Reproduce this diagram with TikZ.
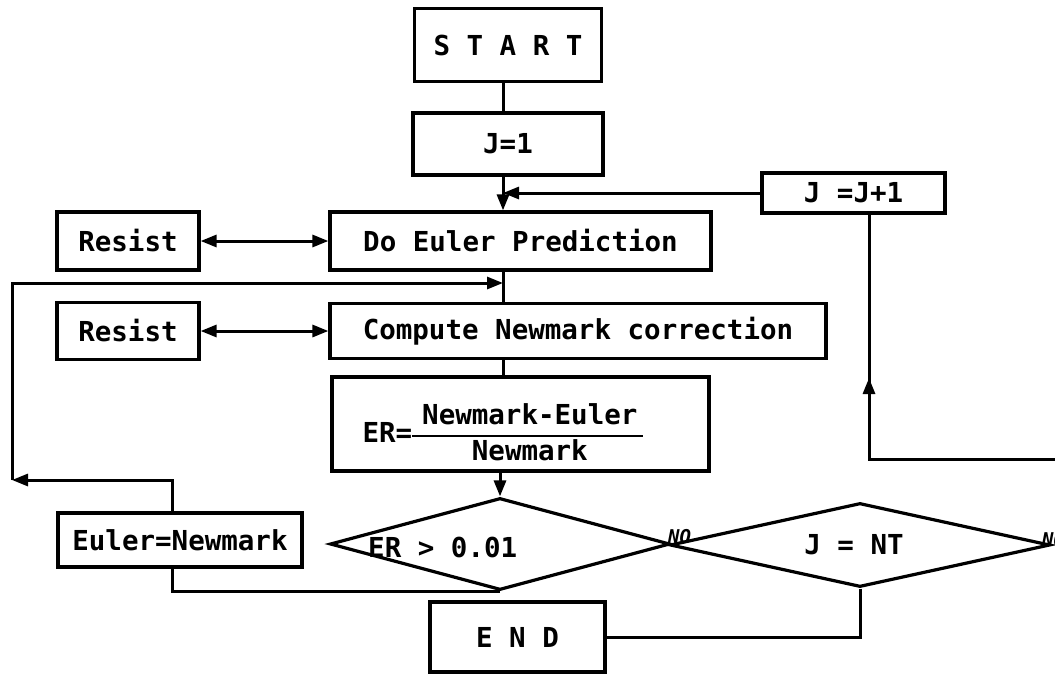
\documentclass[tikz,border=0pt]{standalone}
\usepackage{fontspec}
\setmainfont{DejaVu Sans Mono}
\usetikzlibrary{shapes.geometric,arrows.meta,calc}

\begin{document}
\begin{tikzpicture}[x=1pt,y=-1pt,
  every node/.style={font=\fontsize{27.5}{33}\selectfont\bfseries, inner sep=0pt},
  box/.style={draw, rectangle, line width=3.2pt},
  decision/.style={draw, diamond, line width=3.2pt},
  conn/.style={line width=3pt},
  >={Triangle[length=16pt,width=12pt]},
  nolabel/.style={font=\fontsize{19}{19}\selectfont\bfseries\itshape}
]
\fill[white] (0,0) rectangle (1055,675);
\useasboundingbox (0,0) rectangle (1055,675);

% main flow column and bends of the loops
\coordinate (col) at (503,0);
\coordinate (eux) at (172,0);
\coordinate (lc) at (12,480);
\coordinate (tc) at (12,283);
\coordinate (redge) at (1058,459);
\coordinate (rc) at (869,459);

% boxes
\node[box, minimum width=187pt, minimum height=73pt] (start) at (508,45) {S T A R T};
\node[box, minimum width=190pt, minimum height=62pt] (j1) at (508,144) {J=1};
\node[box, minimum width=183pt, minimum height=40pt] (jinc) at (853.5,193) {J =J+1};
\node[box, minimum width=381pt, minimum height=58pt] (euler) at (520.5,241) {Do Euler Prediction};
\node[box, minimum width=142pt, minimum height=58pt] (res1) at (128,241) {Resist};
\node[box, minimum width=496pt, minimum height=55pt] (newmark) at (578,331) {Compute Newmark correction};
\node[box, minimum width=142pt, minimum height=57pt] (res2) at (128,331) {Resist};
\node[box, minimum width=377pt, minimum height=94pt] (er) at (520.5,424) {};
\node (erlabel) at (503,436) {ER={\setlength\arrayrulewidth{2.8pt}%
  \begin{tabular}{@{\hspace{10pt}}c@{\hspace{6pt}}}Newmark-Euler\\\hline Newmark\end{tabular}}};

% decisions
\node[decision, minimum width=340pt, minimum height=92pt] (d1) at (500,544) {};
\node[anchor=base west] (d1text) at (368,557) {ER > 0.01};
\node[decision, minimum width=380pt, minimum height=84pt] (d2) at (860,545) {};
\node (d2text) at (854,545) {J = NT};
\node[nolabel, anchor=south west] (no1) at (668,544) {NO};
\node[nolabel, anchor=south west] (no2) at (1042,547) {NO};

\node[box, minimum width=244pt, minimum height=54pt] (eunew) at (180,540) {Euler=Newmark};
\node[box, minimum width=175pt, minimum height=70pt] (end) at (517.5,637) {E N D};

% connectors
\draw[conn] (start.south -| col) -- (j1.north -| col);
\draw[conn,->] (j1.south -| col) -- (euler.north -| col);
\draw[conn,->] (jinc.west) -- (jinc.west -| col);
\draw[conn,<->] (res1.east) -- (res1.east -| euler.west);
\draw[conn] (euler.south -| col) -- (newmark.north -| col);
\draw[conn,<->] (res2.east) -- (res2.east -| newmark.west);
\draw[conn] (newmark.south -| col) -- (er.north -| col);
\draw[conn,->] (er.south -| d1.north) -- (d1.north);

% correction loop back above the Newmark step
\draw[conn,->] (eunew.north -| eux) |- (lc);
\draw[conn,->] (lc) -- (tc) -- (tc -| col);
\draw[conn] (eunew.south -| eux) |- (d1.south);

% exit and time-step loop
\draw[conn] (d2.south) |- (end.east);
\draw[conn] (redge) -- (rc) -- (rc |- jinc.south);
\draw[conn,->] (rc) -- ++(0,-81);
\end{tikzpicture}
\end{document}
